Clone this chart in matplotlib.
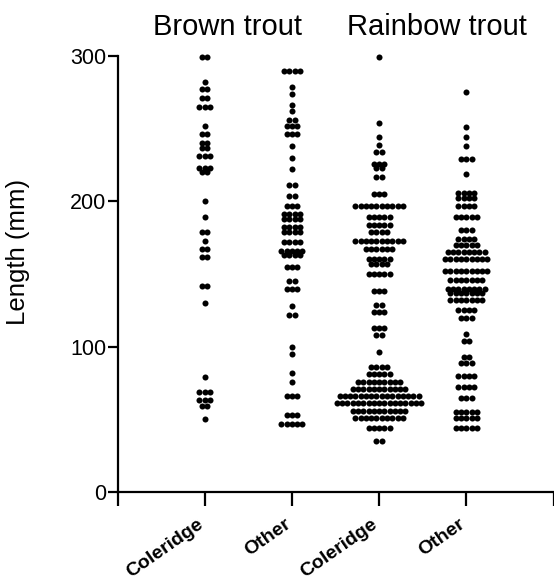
import numpy as np
import matplotlib
matplotlib.use('Agg')
import matplotlib.pyplot as plt
import matplotlib.transforms as mtransforms

plt.rcParams['font.family'] = ['Liberation Sans', 'DejaVu Sans']

# ---- data ----
group_labels = ['Coleridge', 'Other', 'Coleridge', 'Other']
species = ['Brown trout', 'Rainbow trout']
yticks = [0, 100, 200, 300]

# Brown trout, Coleridge: length levels (mm) and number of fish at each level
bc_len = [299, 282, 277, 271, 265, 252, 246, 240, 237, 231, 223, 220, 200, 189,
          179, 173, 167, 162, 142, 130, 79, 69, 63, 59, 50]
bc_cnt = [2, 1, 2, 2, 3, 1, 2, 2, 2, 3, 3, 2, 1, 1, 2, 1, 2, 2, 2, 1, 1, 3, 3, 2, 1]

# Brown trout, Other
bo_len = [290, 279, 274, 266, 262, 256, 252, 246, 238, 230, 222, 211, 204, 197,
          191, 188, 182, 179, 172, 166, 163, 155, 145, 140, 128, 122, 100, 95,
          82, 76, 66, 53, 47]
bo_cnt = [4, 1, 1, 1, 1, 2, 3, 3, 1, 1, 1, 2, 2, 3, 4, 4, 4, 4, 4, 5, 4, 3, 2, 3,
          1, 2, 1, 1, 1, 1, 3, 3, 5]

# Rainbow trout, Coleridge
rc_len = [299, 254, 244, 239, 234, 226, 223, 217, 205, 197, 189, 184, 179, 173,
          167, 160, 157, 150, 138, 129, 124, 113, 108, 96, 86, 81, 76, 71, 66,
          61, 56, 51, 44, 35]
rc_cnt = [1, 1, 1, 1, 2, 3, 2, 2, 3, 10, 5, 5, 4, 10, 6, 5, 4, 5, 3, 2, 3, 3, 2,
          1, 4, 5, 9, 11, 16, 17, 11, 10, 5, 2]

# Rainbow trout, Other
ro_len = [275, 251, 244, 238, 229, 219, 206, 202, 197, 189, 180, 174, 170, 165,
          160, 152, 146, 140, 137, 132, 125, 120, 109, 104, 93, 89, 80, 72, 65,
          55, 51, 44]
ro_cnt = [1, 1, 1, 1, 3, 1, 4, 4, 4, 5, 3, 4, 5, 8, 9, 9, 7, 8, 7, 7, 4, 3, 1, 2,
          2, 3, 4, 4, 3, 5, 5, 5]

groups = [(bc_len, bc_cnt), (bo_len, bo_cnt), (rc_len, rc_cnt), (ro_len, ro_cnt)]

# ---- figure ----
W, H = 554, 581
fig = plt.figure(figsize=(W / 100, H / 100), dpi=100)
x0, x1 = 117.5, 553.5
y_bot, y_top = 492, 56
ax = fig.add_axes([x0 / W, (H - y_bot) / H, (x1 - x0) / W, (y_bot - y_top) / H])

step = 0.0605  # horizontal spacing between neighbouring dots (x units)
for gi, (lens, cnts) in enumerate(groups):
    xs, ys = [], []
    for v, n in zip(lens, cnts):
        offs = (np.arange(n) - (n - 1) / 2.0) * step
        xs.extend(gi + 1 + offs)
        ys.extend([v] * n)
    ax.scatter(xs, ys, s=19, color='black', linewidths=0, clip_on=False, zorder=3)

ax.set_xlim(0, 5)
ax.set_ylim(0, 300)
for s in ['top', 'right']:
    ax.spines[s].set_visible(False)
for s in ['left', 'bottom']:
    ax.spines[s].set_linewidth(1.6)

ax.set_yticks(yticks)
ax.set_yticklabels([str(t) for t in yticks], fontsize=15.5)
ax.tick_params(axis='y', length=7, width=1.6, pad=1)

ax.set_xticks([0, 1, 2, 3, 4, 5])
ax.set_xticklabels([''] + group_labels + [''], fontsize=14, fontweight='bold',
                   rotation=35, ha='right', va='top', rotation_mode='anchor')
ax.tick_params(axis='x', length=10, width=1.6, pad=7)
shift = mtransforms.ScaledTranslation(-8 / 100, 0, fig.dpi_scale_trans)
for lab in ax.get_xticklabels():
    lab.set_transform(lab.get_transform() + shift)

ax.set_ylabel('Length (mm)', fontsize=18.5)
ax.yaxis.set_label_coords(-0.2, 0.55)

fig.text(153 / W, (H - 35) / H, species[0], fontsize=21, ha='left', va='baseline')
fig.text(347 / W, (H - 35) / H, species[1], fontsize=21, ha='left', va='baseline')

fig.savefig('out.png', dpi=100)
